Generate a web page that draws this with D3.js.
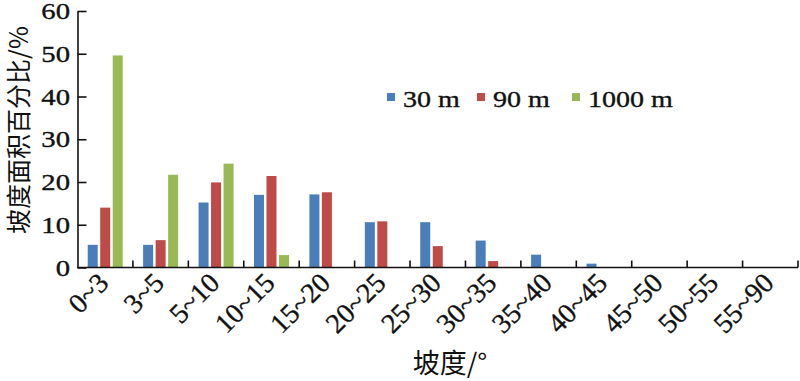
<!DOCTYPE html>
<html><head><meta charset="utf-8">
<script src="https://cdn.jsdelivr.net/npm/d3@7/dist/d3.min.js"></script>
<style>
html,body{margin:0;padding:0;background:#fff;}
svg{display:block;}
text{font-family:"Liberation Serif","Times New Roman",serif;fill:#111;}
.num{stroke:#111;stroke-width:0.35px;}
</style></head>
<body>
<svg id="c" width="800" height="381"></svg>
<script>
const categories = ["0~3","3~5","5~10","10~15","15~20","20~25","25~30","30~35","35~40","40~45","45~50","50~55","55~90"];
const seriesNames = ["30 m","90 m","1000 m"];
const s30 = [5.3,5.3,15.2,17.0,17.1,10.6,10.6,6.3,3.0,0.9,0,0,0];
const s90 = [14.0,6.4,19.9,21.4,17.6,10.8,5.0,1.5,0,0,0,0,0];
const s1000 = [49.6,21.7,24.3,2.9,0,0,0,0,0,0,0,0,0];
const yTicks = [0,10,20,30,40,50,60];
const colors = ["#4a7ebb","#be4b48","#98b954"];
const yTitle = "坡度面积百分比/%";
const xTitle = "坡度/°";

const seriesValues = [s30,s90,s1000];
const svg = d3.select("#c");
const x = d3.scaleBand().domain(categories).range([77.5,798]).padding(0);
const x1 = d3.scaleBand().domain(seriesNames).range([-17.5,17.5]).paddingInner(0.2);
const y = d3.scaleLinear().domain([0,60]).range([267.5,11]);

// bars
seriesNames.forEach((s,si)=>{
  svg.append("g").selectAll("rect").data(categories).join("rect")
    .attr("x",d=>x(d)+x.bandwidth()/2+x1(s))
    .attr("width",x1.bandwidth())
    .attr("y",(d,i)=>y(seriesValues[si][i]))
    .attr("height",(d,i)=>y(0)-y(seriesValues[si][i]))
    .attr("fill",colors[si]);
});

// y axis
const ya = svg.append("g").attr("transform",`translate(${x.range()[0]},0)`)
  .call(d3.axisLeft(y).tickValues(yTicks).tickSizeInner(-9).tickSizeOuter(0).tickFormat(""));
ya.select(".domain").attr("stroke","#111").attr("stroke-width",1.6);
ya.selectAll(".tick line").attr("stroke","#111").attr("stroke-width",1.6);
svg.append("g").selectAll("text").data(yTicks).join("text").attr("class","num")
  .attr("transform",d=>`translate(70,${y(d)+8}) scale(1.25,1)`)
  .attr("text-anchor","end").attr("font-size",23).text(d=>d);

// x axis
const xb = x.domain().map(d=>x(d)).concat([x.range()[1]]);
const xa = svg.append("g");
xa.append("line").attr("x1",x.range()[0]).attr("x2",x.range()[1]).attr("y1",y(0)).attr("y2",y(0))
  .attr("stroke","#111").attr("stroke-width",1.6);
xa.selectAll(".tk").data(xb.slice(1)).join("line").attr("class","tk")
  .attr("x1",d=>d).attr("x2",d=>d).attr("y1",y(0)).attr("y2",y(0)-7)
  .attr("stroke","#111").attr("stroke-width",1.6);
svg.append("g").selectAll("text").data(categories).join("text").attr("class","num")
  .attr("transform",d=>`translate(${x(d)+x.bandwidth()/2+5},${y(0)+17}) rotate(-45)`)
  .attr("text-anchor","end").attr("font-size",28).text(d=>d);

// legend
const lx = [387,477,572];
seriesNames.forEach((s,i)=>{
  svg.append("rect").attr("x",lx[i]).attr("y",93).attr("width",8).attr("height",8).attr("fill",colors[i]);
  svg.append("text").attr("class","num").attr("transform",`translate(${lx[i]+16},107) scale(1.22,1)`)
    .attr("font-size",23).text(s);
});

// titles
svg.append("text").attr("transform","translate(28,130) rotate(-90)")
  .attr("text-anchor","middle").attr("font-size",25)
  .style("font-family","'Noto Sans CJK SC',sans-serif").style("font-weight",400).text(yTitle);
svg.append("text").attr("transform","translate(450,373)")
  .attr("text-anchor","middle").attr("font-size",27)
  .style("font-family","'Noto Sans CJK SC',sans-serif").style("font-weight",400).text(xTitle);
</script>
</body></html>
